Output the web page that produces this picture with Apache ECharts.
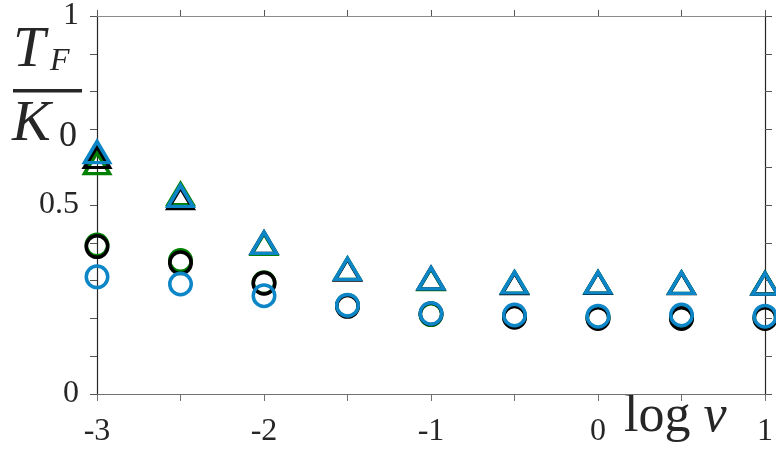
<!DOCTYPE html>
<html><head><meta charset="utf-8">
<script src="https://cdn.jsdelivr.net/npm/echarts@6/dist/echarts.min.js"></script>
<style>html,body{margin:0;padding:0;background:#fff}#c{width:776px;height:452px}</style>
</head><body><div id="c"></div>
<script>
var xVals = [-3, -2.5, -2, -1.5, -1, -0.5, 0, 0.5, 1];
var circGreen = [0.394, 0.353, 0.294, 0.234, 0.210, 0.205, 0.202, 0.202, 0.202];
var circBlack = [0.390, 0.347, 0.293, 0.232, 0.212, 0.203, 0.200, 0.200, 0.200];
var circBlue  = [0.310, 0.291, 0.260, 0.235, 0.213, 0.209, 0.206, 0.209, 0.206];
var triGreen  = [0.611, 0.529, 0.397, 0.331, 0.304, 0.295, 0.295, 0.294, 0.293];
var triBlack  = [0.627, 0.518, 0.400, 0.329, 0.306, 0.293, 0.294, 0.293, 0.292];
var triBlue   = [0.640, 0.524, 0.400, 0.331, 0.306, 0.295, 0.295, 0.294, 0.292];
var xTickLabels = ['-3', '-2', '-1', '0', '1'];
var yTickLabels = ['0', '0.5', '1'];

function pairs(ys) { return xVals.map(function (x, i) { return [x, ys[i]]; }); }
function circ(name, ys, col) {
  return { name: name, type: 'scatter', data: pairs(ys), symbol: 'circle', symbolSize: 21.5, clip: false,
    itemStyle: { color: 'rgba(0,0,0,0)', borderColor: col, borderWidth: 3.5, opacity: 1 }, silent: true };
}
function tri(name, ys, col) {
  return { name: name, type: 'scatter', data: pairs(ys), symbol: 'triangle', symbolSize: [25, 21], clip: false,
    itemStyle: { color: 'rgba(0,0,0,0)', borderColor: col, borderWidth: 3.5, opacity: 1 }, silent: true };
}
var serif = 'Liberation Serif';
var chart = echarts.init(document.getElementById('c'), null, { renderer: 'canvas' });
chart.setOption({
  animation: false,
  grid: { left: 97, right: 10, top: 16, bottom: 58, containLabel: false },
  xAxis: [{
    type: 'value', min: -3, max: 1, interval: 0.5, position: 'bottom',
    axisLine: { onZero: false, lineStyle: { color: '#707070', width: 1.2 } },
    axisTick: { inside: false, length: 7, lineStyle: { color: '#707070' } },
    splitLine: { show: false },
    axisLabel: { margin: 22, fontFamily: serif, fontSize: 32, color: '#262626',
      formatter: function (v) { var i = xTickLabels.indexOf(String(v)); return Math.abs(v % 1) < 1e-9 && i >= 0 ? xTickLabels[i] : ''; } }
  }, {
    type: 'value', min: -3, max: 1, interval: 0.5, position: 'top',
    axisLine: { onZero: false, lineStyle: { color: '#8a8a8a', width: 1.2 } },
    axisTick: { inside: false, length: 6, lineStyle: { color: '#555' } },
    splitLine: { show: false }, axisLabel: { show: false }
  }],
  yAxis: [{
    type: 'value', min: 0, max: 1, interval: 0.1, position: 'left',
    axisLine: { onZero: false, lineStyle: { color: '#262626', width: 1.2 } },
    axisTick: { inside: false, length: 7, lineStyle: { color: '#555' } },
    splitLine: { show: false },
    axisLabel: { margin: 18, fontFamily: serif, fontSize: 32, color: '#262626',
      formatter: function (v) {
        if (Math.abs(v) < 1e-9) return yTickLabels[0];
        if (Math.abs(v - 0.5) < 1e-9) return yTickLabels[1];
        if (Math.abs(v - 1) < 1e-9) return yTickLabels[2];
        return '';
      } }
  }, {
    type: 'value', min: 0, max: 1, interval: 0.1, position: 'right',
    axisLine: { onZero: false, lineStyle: { color: '#262626', width: 1.2 } },
    axisTick: { inside: false, length: 7, lineStyle: { color: '#555' } },
    splitLine: { show: false }, axisLabel: { show: false }
  }],
  graphic: [
    { type: 'text', left: 13, top: 22, style: { text: 'T', fontFamily: serif, fontStyle: 'italic', fontSize: 58, fill: '#262626' } },
    { type: 'text', left: 50, top: 46, style: { text: 'F', fontFamily: serif, fontStyle: 'italic', fontSize: 32, fill: '#262626' } },
    { type: 'rect', shape: { x: 13, y: 89, width: 69, height: 3.5 }, style: { fill: '#262626' } },
    { type: 'text', left: 12, top: 96, style: { text: 'K', fontFamily: serif, fontStyle: 'italic', fontSize: 58, fill: '#262626' } },
    { type: 'text', left: 59, top: 119, style: { text: '0', fontFamily: serif, fontSize: 36, fill: '#262626' } },
    { type: 'text', left: 624, top: 391, style: { text: '{a|log }{b|\u03bd}', rich: {
        a: { fontFamily: serif, fontSize: 52, fill: '#262626' },
        b: { fontFamily: serif, fontStyle: 'italic', fontSize: 52, fill: '#262626' } } } }
  ],
  series: [
    circ('cg', circGreen, '#008000'),
    circ('ck', circBlack, '#000000'),
    circ('cb', circBlue, '#0c86c6'),
    tri('tg', triGreen, '#008000'),
    tri('tk', triBlack, '#000000'),
    tri('tb', triBlue, '#0c86c6')
  ]
});
</script></body></html>
